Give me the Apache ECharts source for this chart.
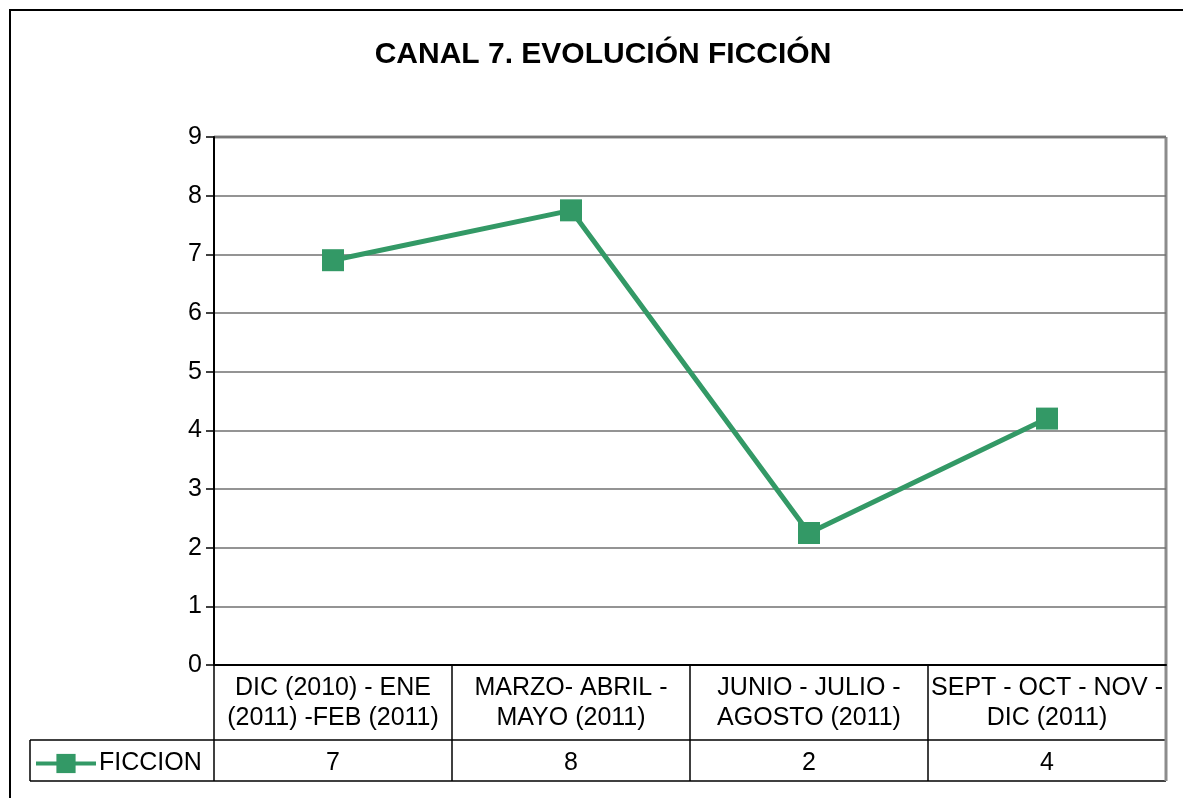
<!DOCTYPE html>
<html>
<head>
<meta charset="utf-8">
<script src="https://cdn.jsdelivr.net/npm/echarts@6/dist/echarts.min.js"></script>
<style>
  html, body { margin: 0; padding: 0; background: #fff; }
  #chart_1 { width: 1183px; height: 798px; }
</style>
</head>
<body>
<div id="chart_1"></div>
<script>
var categories = [
    'DIC (2010) - ENE\n(2011) -FEB (2011)',
    'MARZO- ABRIL -\nMAYO (2011)',
    'JUNIO - JULIO -\nAGOSTO (2011)',
    'SEPT - OCT - NOV -\nDIC (2011)'
];
var ficcion = [6.9, 7.75, 2.25, 4.2];
var tableValues = ficcion.map(function (v) { return String(Math.round(v)); });

(function () {
    echart_1();

    function echart_1() {
        var myChart = echarts.init(document.getElementById('chart_1'));
        var gLeft = 214, gRight = 1166, gTop = 137, gBottom = 665;
        var rowMid = 740, rowEnd = 781;
        var colW = (gRight - gLeft) / categories.length;
        var font = 'Liberation Sans, Arial';

        // table borders under the plot
        var tableLines = [];
        function ln(x1, y1, x2, y2, c, w) {
            tableLines.push({
                type: 'line', silent: true,
                shape: { x1: x1, y1: y1, x2: x2, y2: y2 },
                style: { stroke: c || '#000', lineWidth: w || 1.5 }
            });
        }
        ln(30, rowMid, gRight, rowMid);
        ln(30, rowEnd, gRight, rowEnd);
        ln(30, rowMid, 30, rowEnd);
        for (var i = 0; i < categories.length; i++) {
            ln(gLeft + i * colW, gBottom, gLeft + i * colW, rowEnd);
        }
        ln(gRight, gTop, gRight, rowEnd, '#8c8c8c', 3);
        ln(gLeft, gTop, gRight, gTop, '#8c8c8c', 3);
        // outer frame
        tableLines.push({
            type: 'rect', silent: true,
            shape: { x: 10, y: 10, width: 1220, height: 820 },
            style: { fill: null, stroke: '#000', lineWidth: 2 }
        });

        option = {
            backgroundColor: '#fff',
            animation: false,
            title: {
                text: 'CANAL 7. EVOLUCIÓN FICCIÓN',
                left: 598,
                textAlign: 'center',
                top: 35,
                textStyle: { fontFamily: font, fontSize: 30, fontWeight: 'bold', color: '#000' }
            },
            legend: {
                left: 29,
                top: 746,
                itemWidth: 60,
                itemHeight: 24,
                itemGap: 2,
                lineStyle: { width: 4 },
                textStyle: { fontFamily: font, fontSize: 25, color: '#000', padding: [0, 0, 0, -2] },
                data: ['FICCION']
            },
            grid: {
                left: gLeft, right: 1183 - gRight, top: gTop, bottom: 798 - gBottom
            },
            xAxis: [
                {
                    type: 'category',
                    data: categories,
                    boundaryGap: true,
                    axisLine: { show: true, lineStyle: { color: '#000', width: 2 } },
                    axisTick: { show: false },
                    axisLabel: {
                        interval: 0,
                        margin: 8,
                        fontFamily: font,
                        fontSize: 25,
                        lineHeight: 30,
                        color: '#000'
                    }
                },
                {
                    type: 'category',
                    position: 'bottom',
                    offset: 86,
                    data: tableValues,
                    axisLine: { show: false },
                    axisTick: { show: false },
                    axisLabel: {
                        interval: 0,
                        margin: 0,
                        fontFamily: font,
                        fontSize: 25,
                        color: '#000'
                    }
                }
            ],
            yAxis: {
                type: 'value',
                min: 0,
                max: 9,
                interval: 1,
                axisLine: { show: true, lineStyle: { color: '#000', width: 2 } },
                axisTick: { show: true, length: 8, lineStyle: { color: '#000', width: 1.5 } },
                axisLabel: {
                    margin: 12,
                    fontFamily: font,
                    fontSize: 25,
                    color: '#000'
                },
                splitLine: { show: true, lineStyle: { color: '#707070', width: 1.5 } }
            },
            series: [
                {
                    name: 'FICCION',
                    type: 'line',
                    data: ficcion,
                    symbol: 'rect',
                    symbolSize: 22,
                    color: '#339966',
                    lineStyle: { color: '#339966', width: 5 },
                    itemStyle: { color: '#339966' }
                }
            ],
            graphic: tableLines
        };

        if (option && typeof option === 'object')
            myChart.setOption(option);
        window.addEventListener("resize", function () {
            myChart.resize();
        });
    }
})();
</script>
</body>
</html>
